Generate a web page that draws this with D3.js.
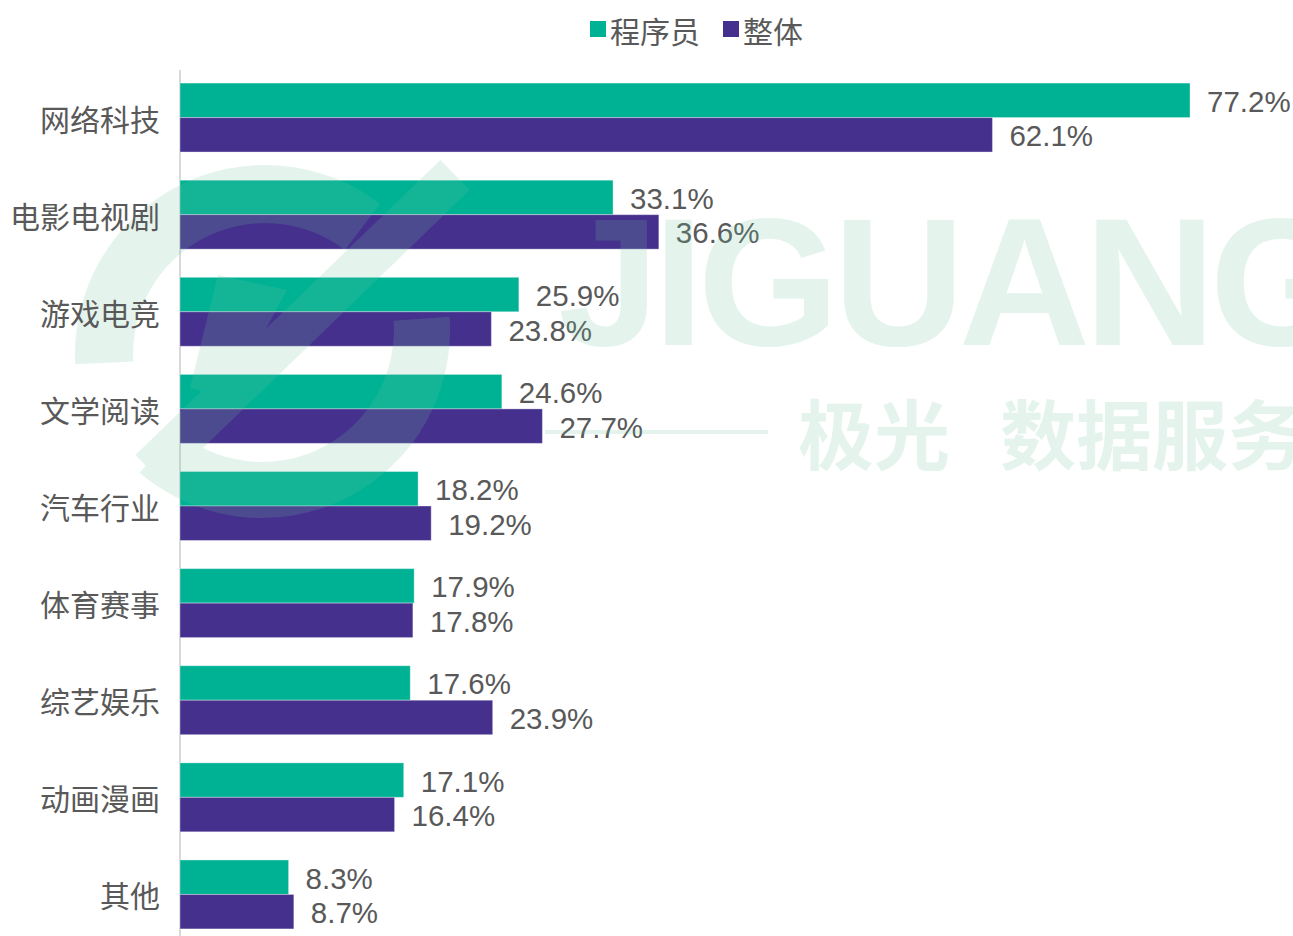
<!DOCTYPE html>
<html>
<head>
<meta charset="utf-8">
<script src="https://cdn.jsdelivr.net/npm/d3@7"></script>
<style>
  body { margin: 0; background: #fff; }
  svg { display: block; }
</style>
</head>
<body>
<svg id="grafico"></svg>
<script>
"use strict"

// dados
const categorias = ['网络科技', '电影电视剧', '游戏电竞', '文学阅读', '汽车行业', '体育赛事', '综艺娱乐', '动画漫画', '其他'];
const series = ['程序员', '整体'];
const programadores = [77.2, 33.1, 25.9, 24.6, 18.2, 17.9, 17.6, 17.1, 8.3];
const geral = [62.1, 36.6, 23.8, 27.7, 19.2, 17.8, 23.9, 16.4, 8.7];
const cores = ['#00b294', '#45318d'];

function iniciar(){
  const largura = 1293;
  const altura = 936;
  const fonteTexto = 'Arial, "Liberation Sans", sans-serif';
  const fonteCJK = '"Microsoft YaHei", "Noto Sans CJK SC", sans-serif';
  const corTexto = '#595959';

  const dados = categorias.map((c, i) => ({ nome: c, valores: [programadores[i], geral[i]] }));

  const svg = d3.select('#grafico')
    .attr('width', largura)
    .attr('height', altura);

  const x = d3.scaleLinear()
    .domain([0, 100])
    .range([180, 180 + 1308.3]);

  const y = d3.scaleBand()
    .domain(categorias)
    .range([69, 943])
    .paddingInner(0.29)
    .paddingOuter(0.145);

  const ySub = d3.scaleBand()
    .domain(series)
    .range([0, y.bandwidth()]);

  // eixo vertical
  svg.append('line')
    .attr('x1', x(0)).attr('x2', x(0))
    .attr('y1', 70).attr('y2', altura)
    .attr('stroke', '#d9d9d9')
    .attr('stroke-width', 2);

  // barras
  const grupos = svg.selectAll('.grupo')
    .data(dados)
    .enter()
      .append('g')
      .classed('grupo', true)
      .attr('transform', d => `translate(0, ${y(d.nome)})`);

  grupos.selectAll('.barra')
    .data(d => d.valores.map((v, i) => ({ serie: series[i], valor: v, i: i })))
    .enter()
      .append('rect')
      .classed('barra', true)
      .attr('x', x(0))
      .attr('y', d => ySub(d.serie))
      .attr('width', d => x(d.valor) - x(0))
      .attr('height', ySub.bandwidth())
      .attr('fill', d => cores[d.i])
      .attr('stroke', '#ffffff')
      .attr('stroke-opacity', 0.35)
      .attr('stroke-width', 1);

  // marca d'agua
  const marca = svg.append('g')
    .attr('opacity', 0.18)
    .attr('fill', '#6cc4a0');

  const arco = d3.arc();
  marca.append('path')
    .attr('transform', 'translate(265, 355)')
    .attr('d', arco({ innerRadius: 132, outerRadius: 190, startAngle: -1.62, endAngle: 0.65 }));
  marca.append('path')
    .attr('transform', 'translate(262, 330)')
    .attr('d', arco({ innerRadius: 132, outerRadius: 188, startAngle: 1.5, endAngle: 3.85 }));
  marca.append('line')
    .attr('x1', 455).attr('y1', 175)
    .attr('x2', 150).attr('y2', 470)
    .attr('stroke', '#6cc4a0')
    .attr('stroke-width', 42);
  marca.append('path')
    .attr('d', 'M218,275 L287,290 L228,398 L190,388 Z');

  marca.append('text')
    .attr('x', 558)
    .attr('y', 345)
    .attr('font-family', fonteTexto)
    .attr('font-weight', 'bold')
    .attr('font-size', 182)
    .attr('letter-spacing', -6)
    .text('JIGUANG');

  marca.append('line')
    .attr('x1', 545).attr('x2', 768)
    .attr('y1', 432).attr('y2', 432)
    .attr('stroke', '#6cc4a0')
    .attr('stroke-width', 4);

  marca.append('text')
    .attr('x', 798)
    .attr('y', 431)
    .attr('dominant-baseline', 'central')
    .attr('font-family', fonteCJK)
    .attr('font-weight', 'bold')
    .attr('font-size', 76)
    .text('极光');

  marca.append('text')
    .attr('x', 1000)
    .attr('y', 431)
    .attr('dominant-baseline', 'central')
    .attr('font-family', fonteCJK)
    .attr('font-weight', 'bold')
    .attr('font-size', 76)
    .text('数据服务');

  // rotulos dos valores
  grupos.selectAll('.rotulo')
    .data(d => d.valores.map((v, i) => ({ serie: series[i], valor: v })))
    .enter()
      .append('text')
      .classed('rotulo', true)
      .attr('x', d => x(d.valor) + 17)
      .attr('y', d => ySub(d.serie) + ySub.bandwidth() / 2 + 1)
      .attr('dominant-baseline', 'central')
      .attr('font-family', fonteTexto)
      .attr('font-size', 29.5)
      .attr('fill', corTexto)
      .text(d => d.valor.toFixed(1) + '%');

  // categorias
  svg.selectAll('.categoria')
    .data(categorias)
    .enter()
      .append('text')
      .classed('categoria', true)
      .attr('x', 160)
      .attr('y', d => y(d) + y.bandwidth() / 2)
      .attr('text-anchor', 'end')
      .attr('dominant-baseline', 'central')
      .attr('font-family', fonteCJK)
      .attr('font-size', 30)
      .attr('fill', corTexto)
      .text(d => d);

  // legenda
  const legendaX = [590, 723];
  const legenda = svg.selectAll('.legenda')
    .data(series)
    .enter()
      .append('g')
      .classed('legenda', true)
      .attr('transform', (d, i) => `translate(${legendaX[i]}, 21)`);

  legenda.append('rect')
    .attr('width', 16)
    .attr('height', 16)
    .attr('fill', (d, i) => cores[i]);

  legenda.append('text')
    .attr('x', 20)
    .attr('y', 9)
    .attr('dominant-baseline', 'central')
    .attr('font-family', fonteCJK)
    .attr('font-size', 30)
    .attr('fill', corTexto)
    .text(d => d);
}

window.addEventListener('load', iniciar, false);
</script>
</body>
</html>
